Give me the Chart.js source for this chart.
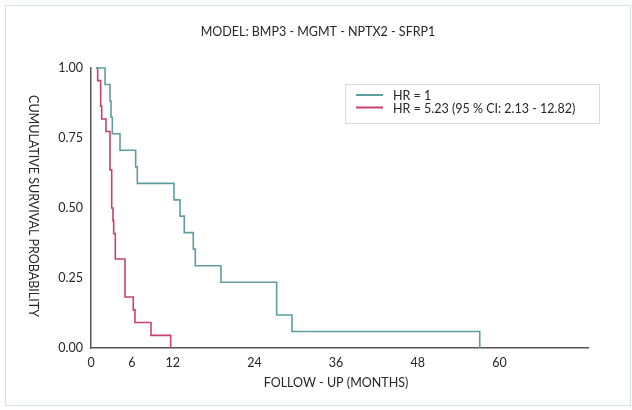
<!DOCTYPE html>
<html><head><meta charset="utf-8">
<script src="https://cdn.jsdelivr.net/npm/chart.js@4"></script>
<style>html,body{margin:0;padding:0;background:#fff}#wrap{width:632px;height:410px;position:relative}</style>
</head><body><div id="wrap"><canvas id="c" width="632" height="410"></canvas></div>
<script>
const chartTitle = 'MODEL: BMP3 - MGMT - NPTX2 - SFRP1';
const xAxisTitle = 'FOLLOW - UP (MONTHS)';
const yAxisTitle = 'CUMULATIVE SURVIVAL PROBABILITY';
const xTickValues = [0, 6, 12, 24, 36, 48, 60];
const yTickValues = [0, 0.25, 0.5, 0.75, 1];
const seriesLabels = ['HR = 1', 'HR = 5.23 (95 % CI: 2.13 - 12.82)'];
const seriesColors = ['#5f9ea0', '#c9416d'];

// HR = 1 group (teal)
const lowTimes = [0.73, 2.06, 2.79, 2.94, 3.13, 4.26, 6.56, 6.80, 12.19, 13.07, 13.70, 15.02, 15.32, 19.09, 27.27, 29.52, 57.1];
const lowSurv  = [1.0, 0.941, 0.882, 0.824, 0.765, 0.706, 0.647, 0.588, 0.529, 0.471, 0.412, 0.353, 0.294, 0.235, 0.118, 0.059, 0.0];
// HR = 5.23 group (red)
const highTimes = [0.73, 0.98, 1.42, 1.57, 2.20, 2.79, 3.04, 3.23, 3.33, 3.57, 4.99, 6.21, 6.46, 8.81, 11.70];
const highSurv  = [1.0, 0.955, 0.864, 0.818, 0.773, 0.636, 0.5, 0.455, 0.409, 0.318, 0.182, 0.136, 0.091, 0.045, 0.0];

const FONT = 'Lato, "Open Sans", sans-serif';
const TEXT = '#262626';

// Kaplan-Meier step: value holds until the next event time, then drops
const toPts = (t, s) => t.map((v, i) => ({x: v, y: s[i]}));

const decor = {
  id: 'decor',
  beforeDraw(chart) {
    const ctx = chart.ctx;
    ctx.save();
    ctx.fillStyle = '#fff';
    ctx.fillRect(0, 0, chart.width, chart.height);
    ctx.strokeStyle = '#d6e4e4';
    ctx.lineWidth = 1;
    ctx.strokeRect(5.5, 5.5, 625, 400);
    ctx.restore();
  },
  afterDraw(chart) {
    const ctx = chart.ctx;
    ctx.save();
    ctx.fillStyle = TEXT;
    ctx.font = '12.5px ' + FONT;
    ctx.textAlign = 'center';
    ctx.textBaseline = 'middle';
    ctx.fillText(chartTitle, 318, 32);
    ctx.fillText(xAxisTitle, 336, 383);
    ctx.save();
    ctx.translate(33, 206);
    ctx.rotate(Math.PI / 2);
    ctx.fillText(yAxisTitle, 0, 0);
    ctx.restore();
    // legend
    ctx.strokeStyle = '#d9d9d9';
    ctx.lineWidth = 1;
    ctx.strokeRect(345.5, 84.5, 254, 39);
    ctx.textAlign = 'left';
    chart.data.datasets.forEach((ds, i) => {
      const y = 96 + i * 12.5;
      ctx.strokeStyle = ds.borderColor;
      ctx.lineWidth = 2;
      ctx.beginPath();
      ctx.moveTo(356, y - 1);
      ctx.lineTo(383, y - 1);
      ctx.stroke();
      ctx.fillStyle = TEXT;
      ctx.fillText(ds.label, 393, y);
    });
    ctx.restore();
  }
};

new Chart(document.getElementById('c'), {
  type: 'line',
  data: {
    datasets: [
      {label: seriesLabels[0], data: toPts(lowTimes, lowSurv), borderColor: seriesColors[0], borderWidth: 1.6, pointRadius: 0, stepped: 'before', fill: false, clip: 4},
      {label: seriesLabels[1], data: toPts(highTimes, highSurv), borderColor: seriesColors[1], borderWidth: 1.6, pointRadius: 0, stepped: 'before', fill: false, clip: 4}
    ]
  },
  options: {
    responsive: false,
    animation: false,
    devicePixelRatio: 1,
    layout: {padding: {top: 68, right: 44, left: 0, bottom: 0}},
    plugins: {legend: {display: false}, title: {display: false}, tooltip: {enabled: false}},
    scales: {
      x: {
        type: 'linear', min: 0, max: 73,
        grid: {display: false, drawTicks: false},
        border: {display: true, color: '#555', width: 1.5},
        afterBuildTicks: s => { s.ticks = xTickValues.map(v => ({value: v})); },
        afterFit: s => { s.height = 62; },
        ticks: {padding: 7, color: TEXT, font: {family: FONT, size: 12.5}, autoSkip: false, maxRotation: 0}
      },
      y: {
        type: 'linear', min: 0, max: 1,
        grid: {display: false, drawTicks: false},
        border: {display: true, color: '#555', width: 1.5},
        afterBuildTicks: s => { s.ticks = yTickValues.map(v => ({value: v})); },
        afterFit: s => { s.width = 91; },
        ticks: {padding: 8, color: TEXT, font: {family: FONT, size: 12.5}, callback: v => Number(v).toFixed(2)}
      }
    }
  },
  plugins: [decor]
});
</script></body></html>
